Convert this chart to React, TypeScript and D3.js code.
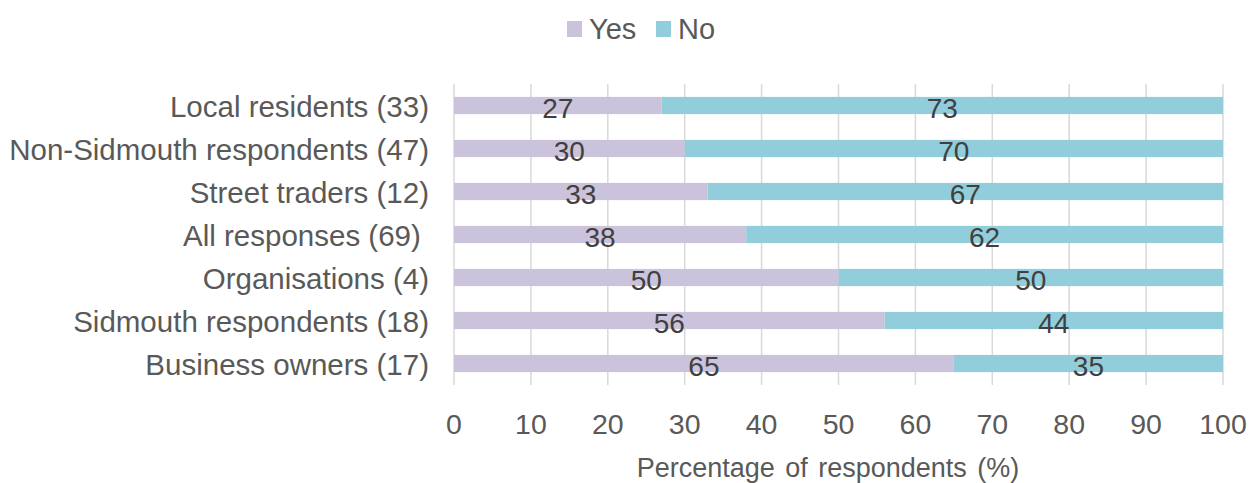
import React from "react";
import * as d3 from "d3";

const categories = [
  "Local residents (33)",
  "Non-Sidmouth respondents (47)",
  "Street traders (12)",
  "All responses (69)\u00a0",
  "Organisations (4)",
  "Sidmouth respondents (18)",
  "Business owners (17)",
];
const yesValues = [27, 30, 33, 38, 50, 56, 65];
const noValues = [73, 70, 67, 62, 50, 44, 35];
const xTicks = [0, 10, 20, 30, 40, 50, 60, 70, 80, 90, 100];
const seriesNames = ["Yes", "No"];
const seriesColors = ["#CBC2DB", "#92CDDC"];

export default function App() {
  const W = 1251, H = 483;
  const left = 454, right = 1223, top = 84, bottom = 385;
  const x = d3.scaleLinear().domain([0, 100]).range([left, right]);
  const y = d3.scaleBand().domain(categories).range([top, bottom]).paddingInner(0.6).paddingOuter(0.3);
  const font = "'Liberation Sans', Arial, sans-serif";
  return (
    <svg width={W} height={H} style={{ position: "absolute", left: 0, top: 0 }} fontFamily={font}>
      <rect width={W} height={H} fill="#fff" />
      {xTicks.map((t) => (
        <line key={t} x1={x(t)} x2={x(t)} y1={top} y2={bottom} stroke="#D9D9D9" strokeWidth={1.5} />
      ))}
      {categories.map((c, i) => {
        const yy = y(c)!;
        const h = y.bandwidth();
        const cy = yy + h / 2;
        return (
          <g key={c}>
            <rect x={x(0)} y={yy} width={x(yesValues[i]) - x(0)} height={h} fill={seriesColors[0]} />
            <rect x={x(yesValues[i])} y={yy} width={x(yesValues[i] + noValues[i]) - x(yesValues[i])} height={h} fill={seriesColors[1]} />
            <text x={(x(0) + x(yesValues[i])) / 2} y={cy + 12} textAnchor="middle" fontSize={28} fill="#404040">{yesValues[i]}</text>
            <text x={(x(yesValues[i]) + x(yesValues[i] + noValues[i])) / 2} y={cy + 12} textAnchor="middle" fontSize={28} fill="#404040">{noValues[i]}</text>
            <text x={429} y={cy + 11} textAnchor="end" fontSize={29.5} fill="#595959" style={{ whiteSpace: "pre" }}>{c}</text>
          </g>
        );
      })}
      {xTicks.map((t) => (
        <text key={t} x={x(t)} y={434} textAnchor="middle" fontSize={28.5} fill="#595959">{t}</text>
      ))}
      <text x={828} y={477} textAnchor="middle" fontSize={27} fill="#595959" wordSpacing={3}>Percentage of respondents (%)</text>
      {seriesNames.map((s, i) => {
        const lx = i === 0 ? 567 : 656;
        return (
          <g key={s}>
            <rect x={lx} y={21} width={15} height={16} fill={seriesColors[i]} />
            <text x={lx + 22} y={39} fontSize={29} fill="#595959">{s}</text>
          </g>
        );
      })}
    </svg>
  );
}
